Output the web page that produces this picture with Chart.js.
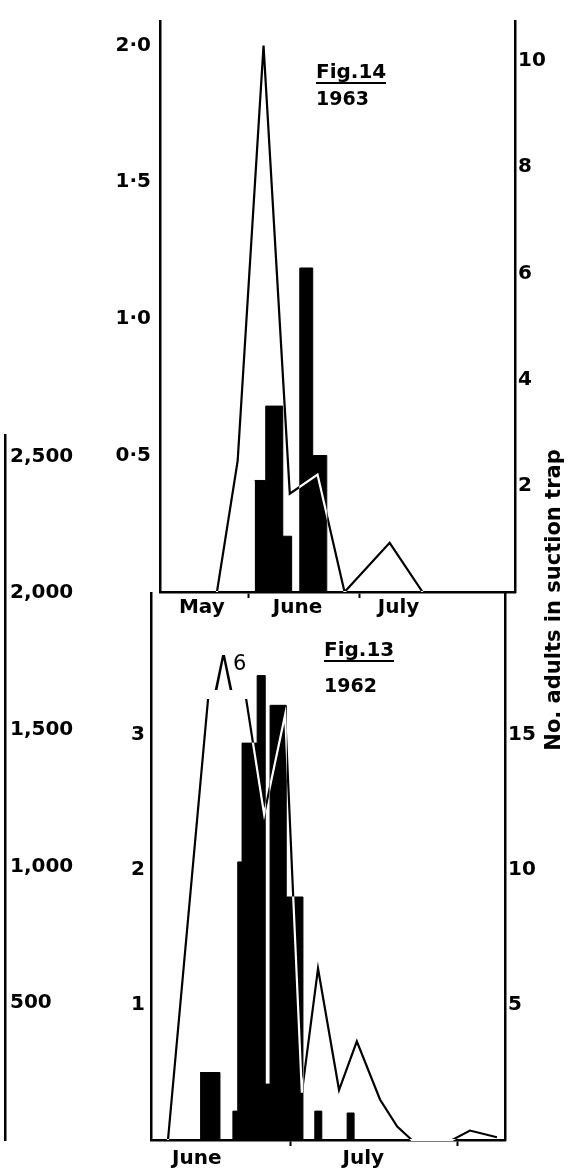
<!DOCTYPE html>
<html>
<head>
<meta charset="utf-8">
<script src="https://cdn.jsdelivr.net/npm/chart.js@4"></script>
<style>
  html, body { margin: 0; padding: 0; background: #fff; }
  #wrap { position: relative; width: 580px; height: 1173px; overflow: hidden; background: #fff;
          font-family: "DejaVu Sans", sans-serif; color: #000; }
  canvas { position: absolute; }
  #c14 { left: 0; top: 0; z-index: 3; }
  #c13 { left: 0; top: 560px; z-index: 2; }
  #cfar { left: 0; top: 400px; z-index: 1; }
  .txt { position: absolute; z-index: 4; white-space: nowrap; font-weight: bold; line-height: 1; }
  .fig { font-size: 20px; border-bottom: 2px solid #000; padding-bottom: 1px; }
  .yr { font-size: 19px; }
  #ytitle { left: 378px; top: 588px; width: 350px; height: 24px; line-height: 24px; text-align: center;
            font-size: 21px; transform-origin: 50% 50%; transform: rotate(-90deg); }
</style>
</head>
<body>
<div id="wrap">
  <canvas id="cfar" width="120" height="773"></canvas>
  <canvas id="c13" width="580" height="613"></canvas>
  <canvas id="c14" width="580" height="640"></canvas>
  <div class="txt fig" style="left:316px; top:61px;">Fig.14</div>
  <div class="txt yr" style="left:316px; top:89px;">1963</div>
  <div class="txt fig" style="left:324px; top:639px;">Fig.13</div>
  <div class="txt yr" style="left:324px; top:676px;">1962</div>
  <div class="txt" id="ytitle">No. adults in suction trap</div>
</div>
<script>
// ---------------- DATA ----------------
// x values are days counted from 1 May (1 May = day 1, 1 June = 32, 1 July = 62, 1 Aug = 93)

// Fig. 14 (1963) – line (left axis)
const line14Days   = [23.4, 29.0, 36.0, 43.1, 50.6, 57.9, 70.1, 79.0];
const line14Values = [0, 0.48, 2.0, 0.36, 0.43, 0, 0.18, 0];
// Fig. 14 – adults in suction trap (right axis), histogram: bar left edges and heights
const bars14Edges  = [33.6, 36.6, 41.2, 43.6, 45.8, 49.3, 53.1];
const bars14Values = [2.1, 3.5, 1.05, 0, 6.1, 2.57, 0];

// Fig. 13 (1962) – line (inner left axis)
const line13Days   = [39.35, 46.8, 50.3, 53.8, 57.2, 61.1, 64.2, 67.2, 71.1, 74.4, 78.7, 81.9, 84.6, 92.1, 95.4, 100.4];
const line13Values = [0, 3.27, 6, 3.28, 2.41, 3.15, 0.35, 1.27, 0.37, 0.73, 0.30, 0.10, 0, 0, 0.07, 0.02];
// Fig. 13 – adults in suction trap (right axis), histogram
const bars13Edges  = [45.3, 49.0, 51.4, 52.3, 53.1, 55.9, 57.4, 58.3, 61.3, 64.4, 66.6, 67.9, 72.6, 73.9];
const bars13Values = [2.5, 0, 1.07, 10.3, 14.7, 17.2, 2.07, 16.1, 9.0, 0, 1.07, 0, 1.0, 0];

// tick labels
const left14Ticks  = [0.5, 1.0, 1.5, 2.0];
const right14Ticks = [2, 4, 6, 8, 10];
const left13Ticks  = [1, 2, 3];
const right13Ticks = [5, 10, 15];
const farLeftTicks = [500, 1000, 1500, 2000, 2500];

const month14Bounds   = [32, 62];
const month14Labels   = ['May', 'June', 'July'];
const month14LabelPos = [19.3, 45.2, 72.5];
const month13Bounds   = [62, 93];
const month13Labels   = ['June', 'July'];
const month13LabelPos = [44.7, 75.6];

// ---------------- STYLE / HELPERS ----------------
const BLACK = '#000';
const FONT = { family: '"DejaVu Sans", sans-serif', size: 20, weight: 'bold' };

const invertPlugin = {
  id: 'invertLine',
  beforeDraw(chart) {
    const { ctx, chartArea: a } = chart;
    ctx.save();
    ctx.fillStyle = '#fff';
    ctx.fillRect(a.left, a.top, a.right - a.left, a.bottom - a.top);
    ctx.restore();
  },
  beforeDatasetDraw(chart, args) {
    if (chart.data.datasets[args.index].invert) {
      chart.ctx.save();
      chart.ctx.globalCompositeOperation = 'difference';
    }
  },
  afterDatasetDraw(chart, args) {
    if (chart.data.datasets[args.index].invert) chart.ctx.restore();
  }
};

function monthAxis(min, max, bounds, labelPos, labels, height, pad) {
  return {
    type: 'linear', position: 'bottom', min, max, z: 1,
    afterBuildTicks: s => { s.ticks = [...bounds, ...labelPos].sort((a, b) => a - b).map(v => ({ value: v })); },
    afterFit: s => { s.height = height; },
    ticks: {
      autoSkip: false, maxRotation: 0, minRotation: 0, padding: pad, font: FONT, color: BLACK,
      callback: v => { const i = labelPos.indexOf(v); return i >= 0 ? labels[i] : ''; }
    },
    grid: {
      display: true, drawOnChartArea: false, drawTicks: true, tickLength: 6, tickWidth: 2,
      color: 'rgba(0,0,0,0)',
      tickColor: c => (c.tick && bounds.includes(c.tick.value)) ? BLACK : 'rgba(0,0,0,0)'
    },
    border: { display: true, color: BLACK, width: 2.5 }
  };
}

function valueAxis(position, min, max, tickValues, fmt, width, pad, mirror) {
  return {
    type: 'linear', position, min, max,
    afterBuildTicks: s => { s.ticks = tickValues.map(v => ({ value: v })); },
    afterFit: s => { s.width = width; },
    ticks: { padding: pad, font: FONT, color: BLACK, callback: fmt, mirror: !!mirror },
    grid: { display: false, drawTicks: false },
    border: { display: true, color: BLACK, width: 2.5 }
  };
}

function pts(xs, ys) { return xs.map((x, i) => ({ x, y: ys[i] })); }

// ---------------- FIG. 14 (1963) ----------------
new Chart(document.getElementById('c14'), {
  type: 'line',
  data: {
    datasets: [
      { label: 'Fig.14 line', data: pts(line14Days, line14Values), yAxisID: 'yL',
        borderColor: '#fff', borderWidth: 2.2, pointRadius: 0, tension: 0, fill: false,
        invert: true, order: 0 },
      { label: 'Fig.14 suction trap', data: pts(bars14Edges, bars14Values), yAxisID: 'yR',
        stepped: 'before', fill: 'origin', backgroundColor: BLACK, borderColor: BLACK,
        borderWidth: 1, pointRadius: 0, order: 1 }
    ]
  },
  options: {
    responsive: false, animation: false, devicePixelRatio: 1,
    layout: { padding: { top: 18, left: 0, right: 0, bottom: 0 } },
    plugins: { legend: { display: false }, tooltip: { enabled: false } },
    scales: {
      x: monthAxis(8, 104, month14Bounds, month14LabelPos, month14Labels, 48, -2),
      yL: valueAxis('left', 0, 2.09, left14Ticks, v => v.toFixed(1).replace('.', '\u00B7'), 160, 9),
      yR: valueAxis('right', 0, 10.75, right14Ticks, v => String(v), 65, 3)
    }
  },
  plugins: [invertPlugin]
});

// ---------------- FIG. 13 (1962) ----------------
const peakPlugin = {
  id: 'peakMark',
  afterDatasetsDraw(chart) {
    const maxV = Math.max(...line13Values);
    const i = line13Values.indexOf(maxV);
    const x = chart.scales.x.getPixelForValue(line13Days[i]);
    const top = chart.chartArea.top;
    const ctx = chart.ctx;
    ctx.save();
    ctx.fillStyle = BLACK;
    ctx.textBaseline = 'alphabetic';
    ctx.translate(x - 3.5, top + 97);
    ctx.scale(0.55, 1);
    ctx.textAlign = 'center';
    ctx.font = '48px "DejaVu Sans"';
    ctx.fillText('\u039B', 0, 0);
    ctx.restore();
    ctx.save();
    ctx.fillStyle = BLACK;
    ctx.textAlign = 'left';
    ctx.textBaseline = 'alphabetic';
    ctx.font = '21px "DejaVu Sans"';
    ctx.fillText(String(maxV), x + 6, top + 77);
    ctx.restore();
  }
};

new Chart(document.getElementById('c13'), {
  type: 'line',
  data: {
    datasets: [
      { label: 'Fig.13 line', data: pts(line13Days, line13Values), yAxisID: 'yL',
        borderColor: '#fff', borderWidth: 2.2, pointRadius: 0, tension: 0, fill: false,
        invert: true, order: 0, clip: { left: 0, top: -106, right: 0, bottom: 2 } },
      { label: 'Fig.13 suction trap', data: pts(bars13Edges, bars13Values), yAxisID: 'yR',
        stepped: 'before', fill: 'origin', backgroundColor: BLACK, borderColor: BLACK,
        borderWidth: 1, pointRadius: 0, order: 1 }
    ]
  },
  options: {
    responsive: false, animation: false, devicePixelRatio: 1,
    layout: { padding: { top: 33, left: 0, right: 0, bottom: 0 } },
    plugins: { legend: { display: false }, tooltip: { enabled: false } },
    scales: {
      x: monthAxis(36.2, 101.9, month13Bounds, month13LabelPos, month13Labels, 33, 1),
      yL: valueAxis('left', 0, 4.05, left13Ticks, v => String(v), 151, 6),
      yR: valueAxis('right', 0, 20.26, right13Ticks, v => String(v), 75, 3)
    }
  },
  plugins: [invertPlugin, peakPlugin]
});

// ---------------- FAR-LEFT AXIS (0 – 2,500) ----------------
new Chart(document.getElementById('cfar'), {
  type: 'line',
  data: { datasets: [] },
  options: {
    responsive: false, animation: false, devicePixelRatio: 1,
    layout: { padding: { top: 35, left: 0, right: 0, bottom: 33 } },
    plugins: { legend: { display: false }, tooltip: { enabled: false } },
    scales: {
      x: { type: 'linear', display: false, min: 0, max: 1 },
      y: valueAxis('left', 0, 2578, farLeftTicks, v => v.toLocaleString('en-US'), 5, 5, true)
    }
  }
});
</script>
</body>
</html>
